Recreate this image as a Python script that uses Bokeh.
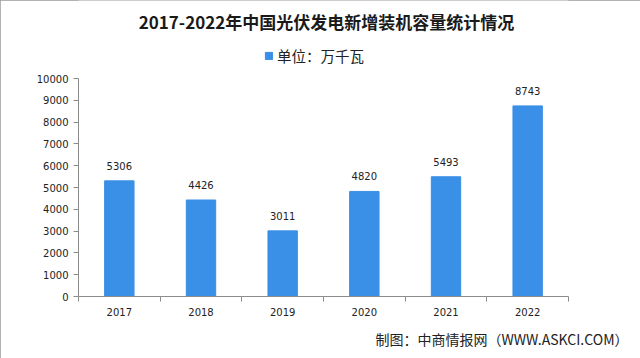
from bokeh.plotting import figure
from bokeh.models import (ColumnDataSource, FixedTicker, Label, LabelSet, Legend,
                          LegendItem, Range1d, Title)
from bokeh.core.properties import value
from bokeh.embed import file_html
from bokeh.resources import INLINE

years = ["2017", "2018", "2019", "2020", "2021", "2022"]
values = [5306, 4426, 3011, 4820, 5493, 8743]
y_ticks = [0, 1000, 2000, 3000, 4000, 5000, 6000, 7000, 8000, 9000, 10000]
title_text = "2017-2022年中国光伏发电新增装机容量统计情况"
legend_text = "单位：万千瓦"
source_text = "制图：中商情报网（WWW.ASKCI.COM）"

bar_color = "#3a8fe6"
text_color = "#222222"
axis_color = "#8c8c8c"
cjk = "Noto Sans CJK SC"
num_font = "DejaVu Sans"

# layout (pixels)
W, H = 640, 358
frame_left, frame_right, frame_bottom = 78, 568, 296
axis_top_px = 78          # pixel row of the 10000 tick
y_axis_max = 10000
frame_top = 0
units_per_px = y_axis_max / (frame_bottom - axis_top_px)
y_range_max = (frame_bottom - frame_top) * units_per_px


def y_at(py):
    return (frame_bottom - py) * units_per_px


xs = [i + 0.5 for i in range(len(years))]
src = ColumnDataSource(dict(x=xs, top=values, label=[str(v) for v in values]))

p = figure(width=W, height=H, output_backend="svg", toolbar_location=None,
           title=None,
           x_range=Range1d(0, len(years)), y_range=Range1d(0, y_range_max),
           min_border_left=frame_left, min_border_right=W - frame_right,
           min_border_top=frame_top, min_border_bottom=H - frame_bottom)
p.outline_line_color = None
p.background_fill_color = "white"
p.border_fill_color = "white"
p.xgrid.visible = False
p.ygrid.visible = False
p.styles = {"outline": "1px solid #9a9a9a", "outline-offset": "-1px"}

r = p.vbar(x="x", top="top", width=0.36, source=src, color=bar_color)

labels = LabelSet(x="x", y="top", text="label", source=src, text_align="center",
                  text_baseline="bottom", y_offset=11, text_font_size="10px",
                  text_color=text_color, text_font=value(num_font))
p.add_layout(labels)

# x axis
p.xaxis.ticker = FixedTicker(ticks=xs, minor_ticks=list(range(len(years) + 1)))
p.xaxis.major_label_overrides = {x: y for x, y in zip(xs, years)}
p.xaxis.major_tick_line_color = None
p.xaxis.major_tick_out = 0
p.xaxis.major_tick_in = 0
p.xaxis.minor_tick_line_color = axis_color
p.xaxis.minor_tick_out = 5
p.xaxis.minor_tick_in = 0
p.xaxis.major_label_standoff = 6
p.xaxis.axis_line_color = axis_color
p.xaxis.major_label_text_font = num_font
p.xaxis.major_label_text_font_size = "10px"
p.xaxis.major_label_text_color = text_color

# y axis
p.yaxis.ticker = FixedTicker(ticks=y_ticks)
p.yaxis.bounds = (0, y_axis_max)
p.yaxis.axis_line_color = axis_color
p.yaxis.major_tick_line_color = axis_color
p.yaxis.major_tick_out = 5
p.yaxis.major_tick_in = 0
p.yaxis.minor_tick_line_color = None
p.yaxis.major_label_standoff = 5
p.yaxis.major_label_text_font = num_font
p.yaxis.major_label_text_font_size = "10px"
p.yaxis.major_label_text_color = text_color

# title
p.add_layout(Label(x=len(years) / 2, y=y_at(21), x_offset=3, text=title_text,
                   text_align="center", text_baseline="middle", text_font=cjk,
                   text_font_style="bold", text_font_size="17px",
                   text_color="#1a1a1a"))

# legend
legend = Legend(items=[LegendItem(label=legend_text, renderers=[r])],
                location=(264 - frame_left, frame_bottom - 66),
                orientation="horizontal",
                glyph_width=9, glyph_height=9, label_standoff=4,
                padding=0, margin=0, spacing=0, border_line_color=None,
                background_fill_alpha=0, label_text_font=cjk,
                label_text_font_size="14.5px", label_text_color=text_color,
                label_height=16)
p.add_layout(legend, "center")

# source footer
p.add_layout(Title(text=source_text, align="right", offset=-60, text_font=cjk,
                   text_font_style="normal", text_font_size="14px",
                   text_color=text_color, standoff=16), "below")

open("out.html", "w").write(file_html(p, INLINE))
